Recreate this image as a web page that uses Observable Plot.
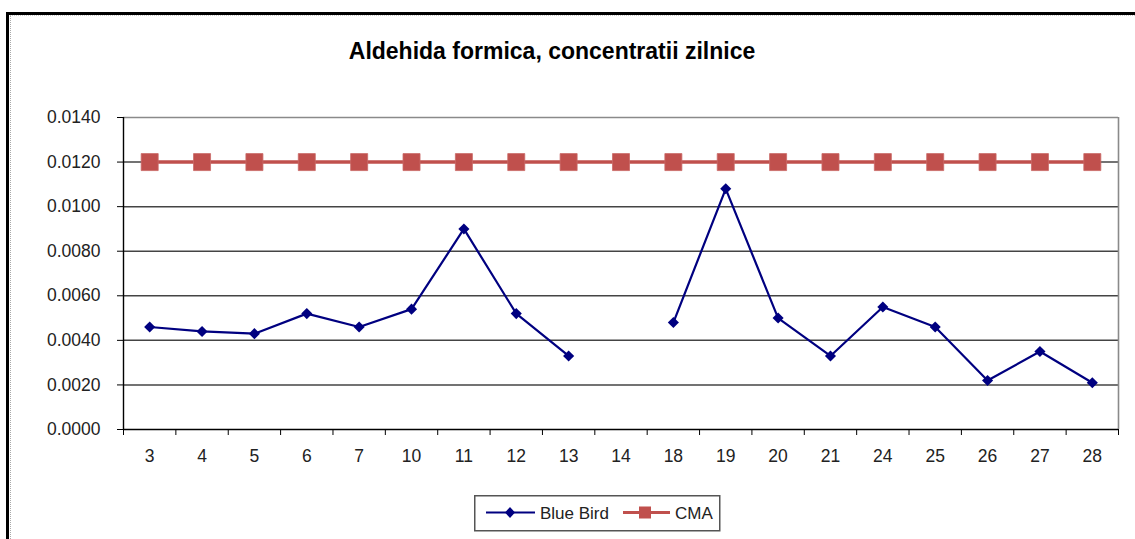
<!DOCTYPE html>
<html>
<head>
<meta charset="utf-8">
<script src="https://cdn.jsdelivr.net/npm/d3@7"></script>
<script src="https://cdn.jsdelivr.net/npm/@observablehq/plot@0.6"></script>
<style>
  html, body { margin: 0; padding: 0; background: #fff; }
  #wrap { position: relative; width: 1135px; height: 539px; overflow: hidden; background: #fff;
          font-family: "Liberation Sans", Arial, sans-serif; }
  #border { position: absolute; left: 6px; top: 12px; right: -10px; bottom: -10px;
            border-left: 3px solid #000; border-top: 3px solid #000; }
  #border2 { position: absolute; left: 10px; top: 15px; right: -10px; bottom: -10px;
             border-left: 1px dotted #aaa; border-top: 1px dotted #ccc; }
  #chart { position: absolute; left: 0; top: 0; }
  #legend { position: absolute; left: 474px; top: 495px; }
</style>
</head>
<body>
<div id="wrap">
  <div id="border"></div>
  <div id="border2"></div>
  <div id="chart"></div>
  <div id="legend"></div>
</div>
<script>
const title = "Aldehida formica, concentratii zilnice";
const categories = ["3","4","5","6","7","10","11","12","13","14","18","19","20","21","24","25","26","27","28"];
const blueBird = [0.0046,0.0044,0.0043,0.0052,0.0046,0.0054,0.0090,0.0052,0.0033,null,0.0048,0.0108,0.0050,0.0033,0.0055,0.0046,0.0022,0.0035,0.0021];
const cma = [0.012,0.012,0.012,0.012,0.012,0.012,0.012,0.012,0.012,0.012,0.012,0.012,0.012,0.012,0.012,0.012,0.012,0.012,0.012];
const yTicks = [0, 0.002, 0.004, 0.006, 0.008, 0.010, 0.012, 0.014];
const seriesNames = ["Blue Bird", "CMA"];

const blue = "#000080";
const red = "#C0504D";
const textColor = "#222";

const data = categories.map((c, i) => ({i, cat: c, blue: blueBird[i], cma: cma[i]}));
const boundaryTicks = d3.range(categories.length + 1);
const xc = d => d.i + 0.5;

const chart = Plot.plot({
  width: 1135,
  height: 539,
  marginLeft: 123,
  marginRight: 17,
  marginTop: 117,
  marginBottom: 110,
  style: {background: "transparent", color: textColor, fontFamily: "'Liberation Sans', Arial, sans-serif", overflow: "visible"},
  x: {domain: [0, categories.length], label: null},
  y: {domain: [0, 0.014], label: null},
  marks: [
    // gridlines
    Plot.ruleY(yTicks.slice(1, -1), {stroke: "#444", strokeWidth: 1.5}),
    // frame: top and right gray
    Plot.ruleY([yTicks[yTicks.length - 1]], {stroke: "#8a8a8a", strokeWidth: 1.6}),
    Plot.ruleX([categories.length], {stroke: "#8a8a8a", strokeWidth: 1.6}),
    // axes lines
    Plot.ruleY([0], {stroke: "#000", strokeWidth: 1.4}),
    Plot.ruleX([0], {stroke: "#000", strokeWidth: 1.4}),
    Plot.axisY(yTicks, {tickSize: 6, tickPadding: 17, tickFormat: d => d.toFixed(4), fontSize: 17.5, stroke: "#000", fill: textColor}),
    Plot.axisX(boundaryTicks, {tickSize: 6, tickFormat: () => "", stroke: "#000"}),
    Plot.text(data, {x: xc, frameAnchor: "bottom", dy: 32, text: "cat", fontSize: 17.5, fill: textColor}),
    // CMA
    Plot.line(data, {x: xc, y: "cma", stroke: red, strokeWidth: 3.5}),
    Plot.dot(data, {x: xc, y: "cma", symbol: "square", r: 9.6, fill: red, stroke: "#c96a67", strokeWidth: 0.8}),
    // Blue Bird
    Plot.line(data, {x: xc, y: "blue", stroke: blue, strokeWidth: 2.2}),
    Plot.dot(data, {x: xc, y: "blue", symbol: "diamond2", r: 5, fill: blue}),
    // title
    Plot.text([title], {frameAnchor: "top", dy: -59, dx: -69, lineAnchor: "bottom", fontSize: 23, fontWeight: "bold", fill: "#000"})
  ]
});
document.getElementById("chart").appendChild(chart);

// legend
const lg = `
<svg width="247" height="37" style="display:block;font-family:'Liberation Sans', Arial, sans-serif">
  <rect x="0.75" y="0.75" width="245" height="35" fill="#fff" stroke="#555" stroke-width="1.5"/>
  <line x1="12" x2="61" y1="17.5" y2="17.5" stroke="${blue}" stroke-width="2"/>
  <path d="M36,12 L41,17.5 L36,23 L31,17.5 Z" fill="${blue}"/>
  <text x="66" y="23.5" font-size="17" fill="${textColor}">${seriesNames[0]}</text>
  <line x1="149" x2="196" y1="17.5" y2="17.5" stroke="${red}" stroke-width="3"/>
  <rect x="165" y="11.5" width="12" height="12" fill="${red}"/>
  <text x="201" y="23.5" font-size="17" fill="${textColor}">${seriesNames[1]}</text>
</svg>`;
document.getElementById("legend").innerHTML = lg;
</script>
</body>
</html>
